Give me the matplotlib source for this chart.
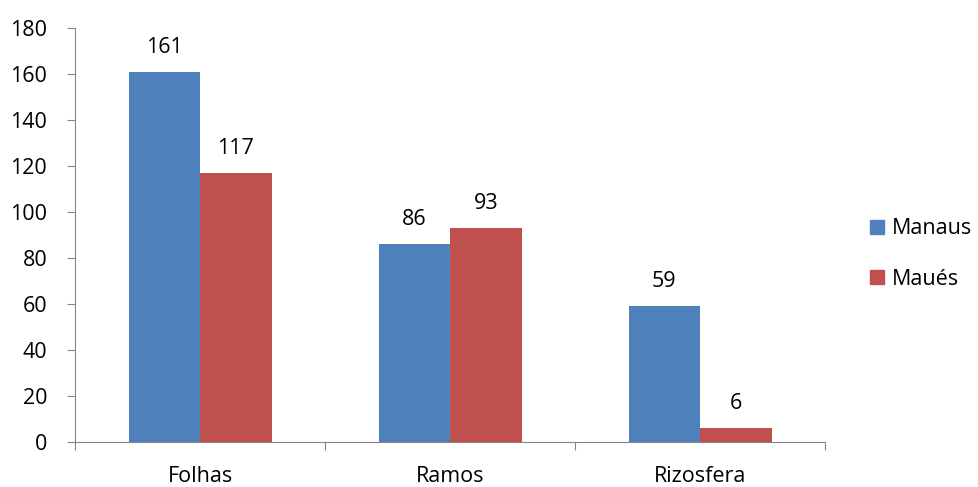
import numpy as np
import matplotlib.pyplot as plt
from matplotlib.patches import Patch

# dados
categorias = ["Folhas", "Ramos", "Rizosfera"]
manaus = [161, 86, 59]
maues = [117, 93, 6]
series = ["Manaus", "Maués"]
y_ticks = [0, 20, 40, 60, 80, 100, 120, 140, 160, 180]

azul = "#4F81BD"
vermelho = "#C0504D"
cinza = "#868686"

plt.rcParams["font.family"] = ["Open Sans", "DejaVu Sans"]
fs = 15.5

fig = plt.figure(figsize=(9.79, 4.87), dpi=100)
ax = fig.add_axes([75 / 979, 1 - 442 / 487, 750 / 979, 414 / 487])

x = np.arange(len(categorias))
w = 0.286
b1 = ax.bar(x - w / 2, manaus, w, color=azul)
b2 = ax.bar(x + w / 2, maues, w, color=vermelho)

for bars in (b1, b2):
    for rect in bars:
        h = rect.get_height()
        ax.annotate(f"{h:.0f}", (rect.get_x() + rect.get_width() / 2, h),
                    xytext=(0, 10), textcoords="offset points",
                    ha="center", va="bottom", fontsize=fs)

ax.set_xlim(-0.5, 2.5)
ax.set_ylim(0, 180)
ax.set_yticks(y_ticks)
ax.tick_params(axis="y", length=6, color=cinza, labelsize=fs, pad=14)

# ticks do eixo x entre as categorias, rótulos no centro
ax.set_xticks([-0.5, 0.5, 1.5, 2.5])
ax.set_xticklabels([])
ax.set_xticks(x, minor=True)
ax.tick_params(axis="x", which="major", length=6, color=cinza)
ax.set_xticklabels(categorias, minor=True)
ax.tick_params(axis="x", which="minor", length=0, labelsize=fs, pad=17)

for s in ("top", "right"):
    ax.spines[s].set_visible(False)
for s in ("left", "bottom"):
    ax.spines[s].set_color(cinza)

handles = [Patch(color=azul), Patch(color=vermelho)]
fig.legend(handles, series, loc="center left", bbox_to_anchor=(870 / 979, 1 - 254 / 487),
           frameon=False, fontsize=fs, handlelength=0.65, handleheight=0.65,
           handletextpad=0.35, labelspacing=1.35, borderaxespad=0, borderpad=0)

fig.savefig("out.png", dpi=100)
